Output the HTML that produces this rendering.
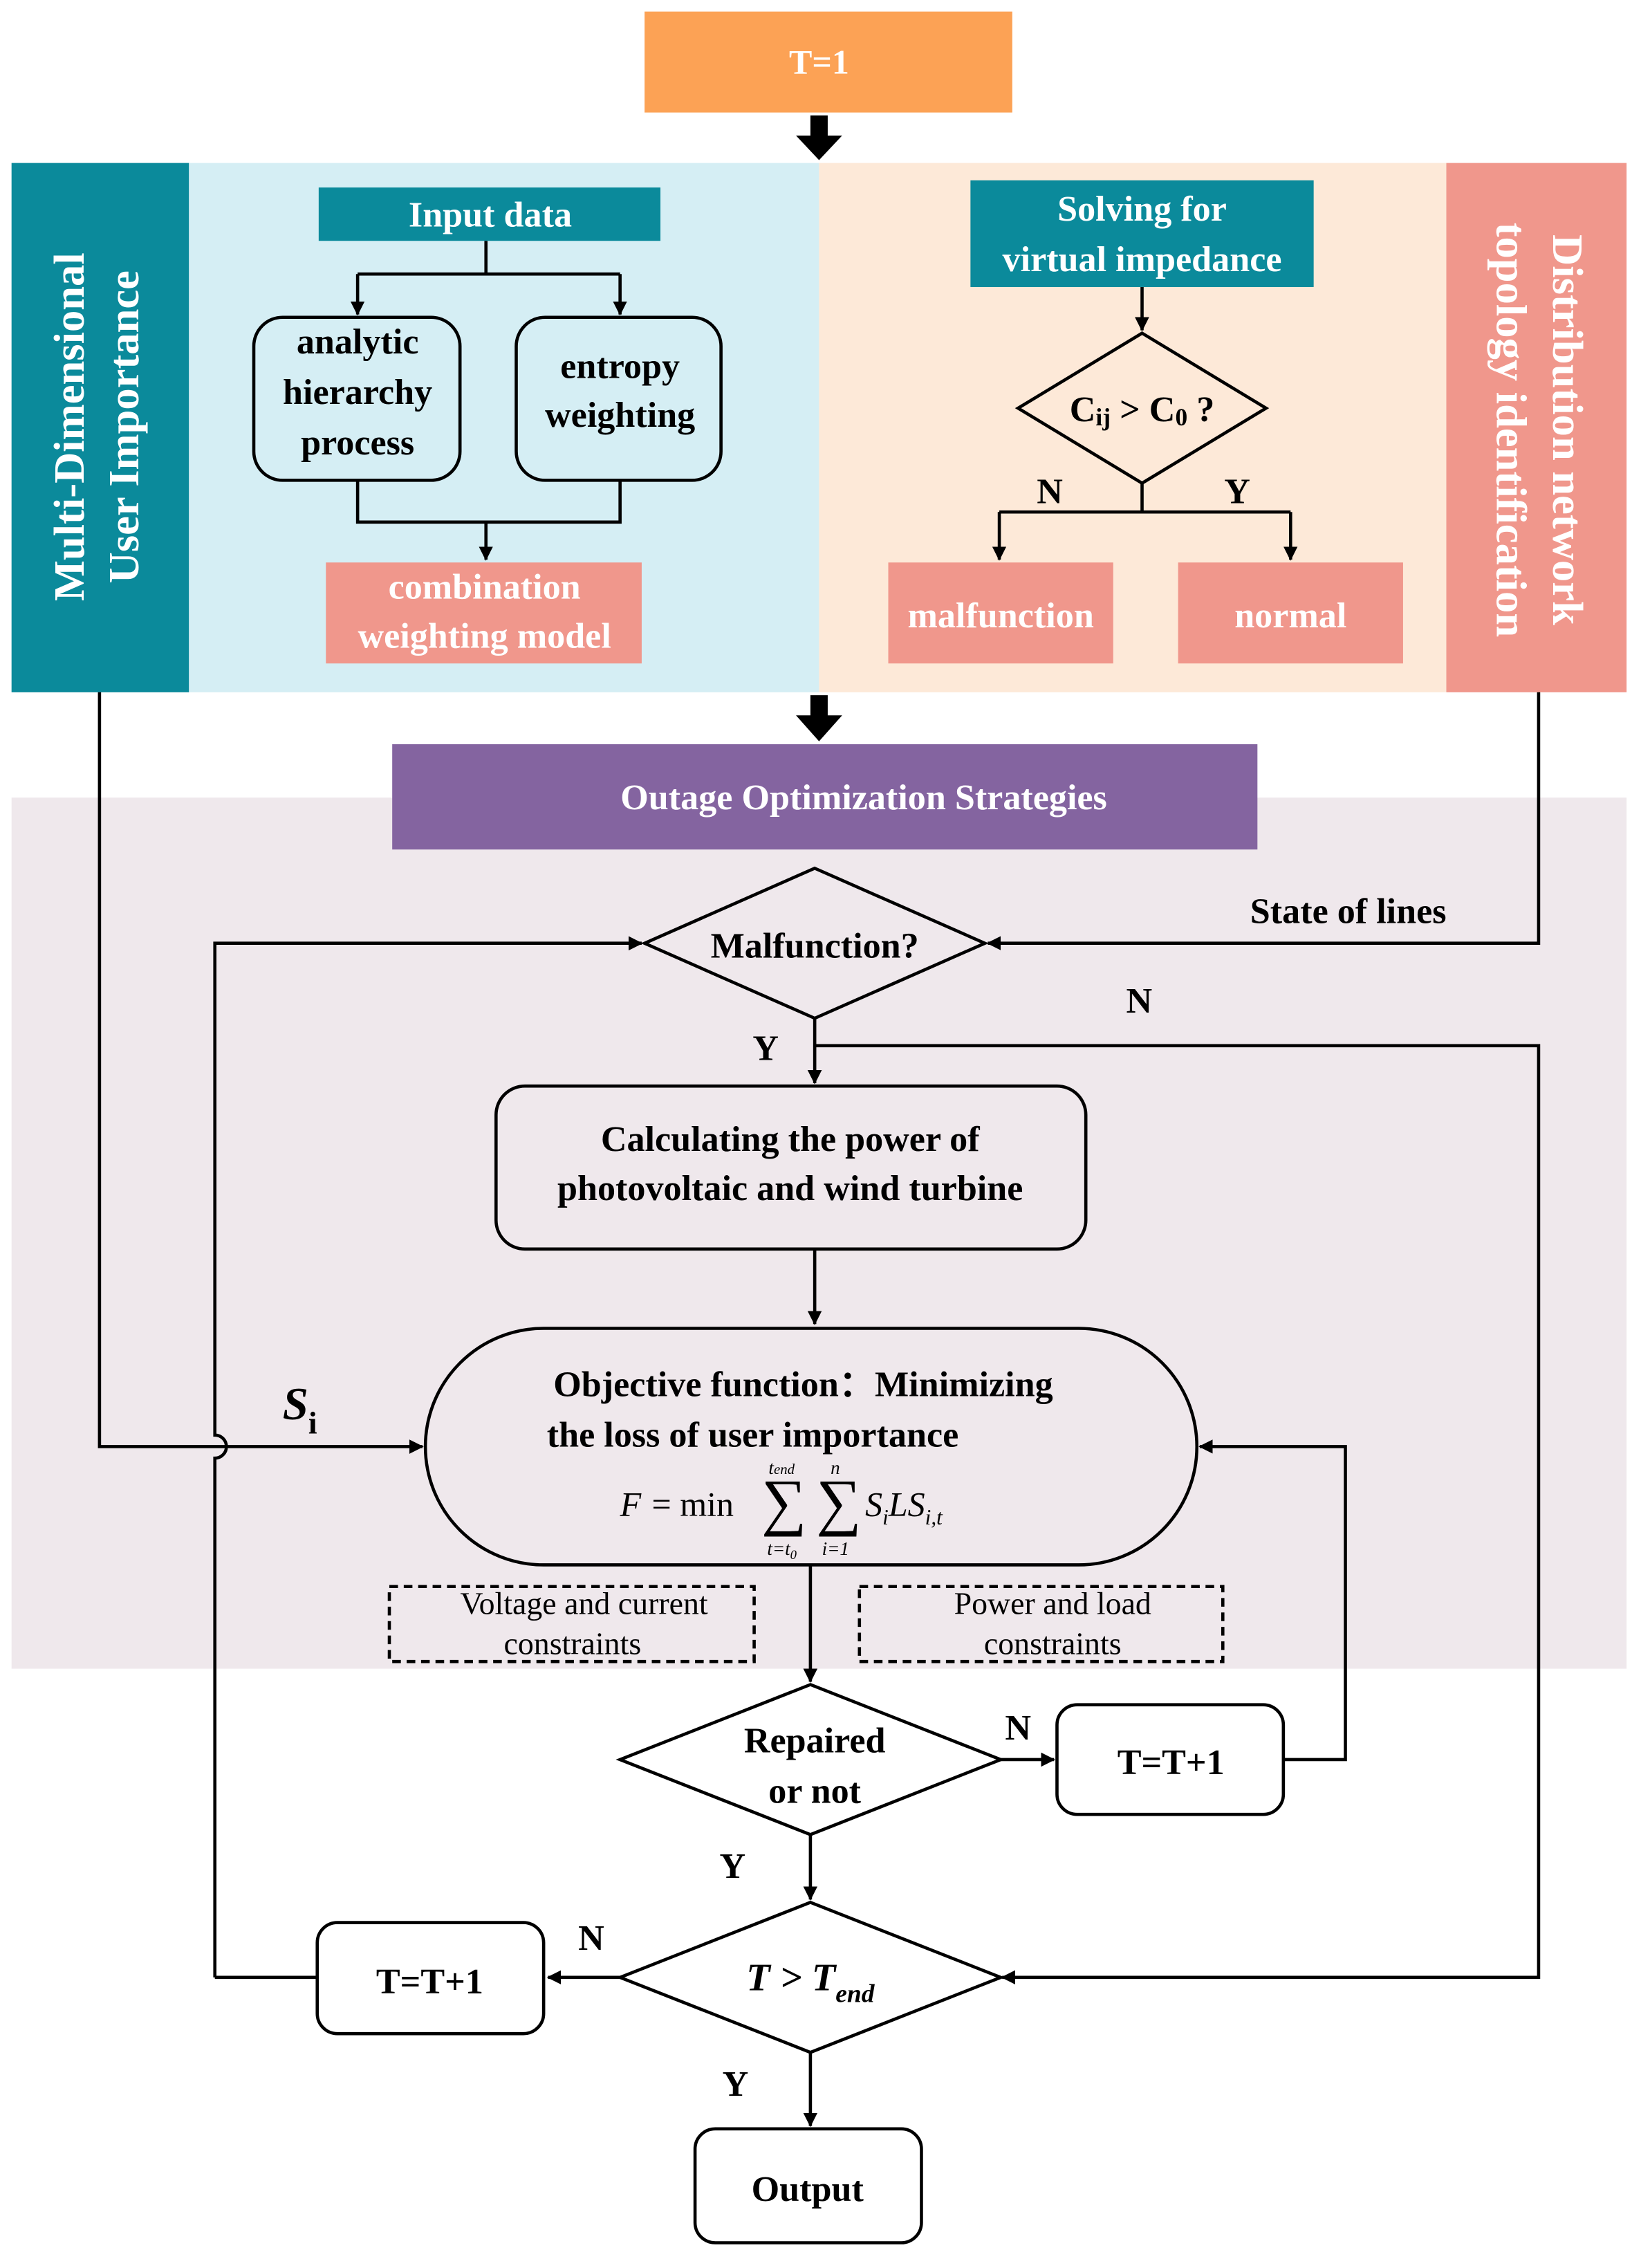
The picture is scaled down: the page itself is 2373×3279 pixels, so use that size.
<!DOCTYPE html>
<html><head><meta charset="utf-8"><style>html,body{margin:0;padding:0;background:#fff}svg{display:block}svg text{font-family:"Liberation Serif","DejaVu Serif",serif}</style></head>
<body>
<svg xmlns="http://www.w3.org/2000/svg" width="2373" height="3279" viewBox="0 0 1138 1572.5" preserveAspectRatio="none" style="font-family:'Liberation Serif',serif">
<defs>
<marker id="a" markerWidth="10" markerHeight="10" refX="9" refY="5" orient="auto" markerUnits="userSpaceOnUse"><path d="M0,0 L10,5 L0,10 Z" fill="#000" transform="scale(1.4) translate(-3,-1.4)"/></marker>
</defs>
<rect width="1138" height="1573" fill="#fff"/>
<rect x="447" y="8" width="255" height="70" fill="#FCA255"/>
<text x="568" y="51" font-size="24" font-weight="bold" fill="#fff" text-anchor="middle">T=1</text>
<path d="M562,80 h12 v14 h10 l-16,17 l-16,-17 h10 Z" fill="#000"/>
<rect x="131" y="113" width="437" height="367" fill="#D5EEF4"/>
<rect x="568" y="113" width="435" height="367" fill="#FDE9D8"/>
<rect x="8" y="113" width="123" height="367" fill="#0B8A9B"/>
<rect x="1003" y="113" width="125" height="367" fill="#F0978C"/>
<text transform="translate(58,296) rotate(-90)" font-size="30" font-weight="bold" fill="#fff" text-anchor="middle">Multi-Dimensional</text>
<text transform="translate(96,296) rotate(-90)" font-size="30" font-weight="bold" fill="#fff" text-anchor="middle">User Importance</text>
<text transform="translate(1077,298) rotate(90)" font-size="30" font-weight="bold" fill="#fff" text-anchor="middle">Distribution network</text>
<text transform="translate(1038,298) rotate(90)" font-size="30" font-weight="bold" fill="#fff" text-anchor="middle">topology identification</text>
<rect x="221" y="130" width="237" height="37" fill="#0B8A9B"/>
<text x="340" y="157" font-size="25" font-weight="bold" fill="#fff" text-anchor="middle">Input data</text>
<g stroke="#000" stroke-width="2.2" fill="none">
<path d="M337,167 V190 M248,190 H430"/>
<path d="M248,190 V218" marker-end="url(#a)"/>
<path d="M430,190 V218" marker-end="url(#a)"/>
<rect x="176" y="220" width="143" height="113" rx="20"/>
<rect x="358" y="220" width="142" height="113" rx="20"/>
<path d="M248,333 V362 H430 V333 M337,362"/>
<path d="M337,362 V388" marker-end="url(#a)"/>
</g>
<g font-size="25" font-weight="bold" text-anchor="middle">
<text x="248" y="245">analytic</text><text x="248" y="280">hierarchy</text><text x="248" y="315">process</text>
<text x="430" y="262">entropy</text><text x="430" y="296">weighting</text>
</g>
<rect x="226" y="390" width="219" height="70" fill="#F0978C"/>
<text x="336" y="415" font-size="25" font-weight="bold" fill="#fff" text-anchor="middle">combination</text>
<text x="336" y="449" font-size="25" font-weight="bold" fill="#fff" text-anchor="middle">weighting model</text>
<rect x="673" y="125" width="238" height="74" fill="#0B8A9B"/>
<text x="792" y="153" font-size="25" font-weight="bold" fill="#fff" text-anchor="middle">Solving for</text>
<text x="792" y="188" font-size="25" font-weight="bold" fill="#fff" text-anchor="middle">virtual impedance</text>
<g stroke="#000" stroke-width="2.2" fill="none">
<path d="M792,199 V229" marker-end="url(#a)"/>
<path d="M792,231 L878,283 L792,335 L706,283 Z"/>
<path d="M792,335 V355 M693,355 H895"/>
<path d="M693,355 V388" marker-end="url(#a)"/>
<path d="M895,355 V388" marker-end="url(#a)"/>
</g>
<text x="792" y="292" font-size="25" font-weight="bold" text-anchor="middle">C<tspan font-size="17" dy="3">ij</tspan><tspan dy="-3"> &gt; C</tspan><tspan font-size="17" dy="3">0</tspan><tspan dy="-3"> ?</tspan></text>
<text x="728" y="349" font-size="25" font-weight="bold" text-anchor="middle">N</text>
<text x="858" y="349" font-size="25" font-weight="bold" text-anchor="middle">Y</text>
<rect x="616" y="390" width="156" height="70" fill="#F0978C"/>
<rect x="817" y="390" width="156" height="70" fill="#F0978C"/>
<text x="694" y="435" font-size="25" font-weight="bold" fill="#fff" text-anchor="middle">malfunction</text>
<text x="895" y="435" font-size="25" font-weight="bold" fill="#fff" text-anchor="middle">normal</text>
<path d="M562,482 h12 v14 h10 l-16,18 l-16,-18 h10 Z" fill="#000"/>
<rect x="8" y="553" width="1120" height="604" fill="#EFE8EC"/>
<rect x="272" y="516" width="600" height="73" fill="#8464A0"/>
<text x="599" y="561" font-size="25" font-weight="bold" fill="#fff" text-anchor="middle">Outage Optimization Strategies</text>
<g stroke="#000" stroke-width="2.2" fill="none">
<path d="M565,602 L683,654 L565,706 L447,654 Z"/>
<path d="M1067,480 V654 H685" marker-end="url(#a)"/>
<path d="M149,1371 V1011 A8,8 0 0 0 149,995 V654 H445" marker-end="url(#a)"/>
<path d="M565,725 H1067 V1371 H695" marker-end="url(#a)"/>
<path d="M565,706 V751" marker-end="url(#a)"/>
<rect x="344" y="753" width="409" height="113" rx="20"/>
<path d="M565,866 V918" marker-end="url(#a)"/>
<rect x="295" y="921" width="535" height="164" rx="82"/>
<path d="M69,480 V1003 H293" marker-end="url(#a)"/>
<path d="M890,1220 H933 V1003 H832" marker-end="url(#a)"/>
<rect x="270" y="1100" width="253" height="52" stroke-dasharray="6,4"/>
<rect x="596" y="1100" width="252" height="52" stroke-dasharray="6,4"/>
<path d="M562,1085 V1166" marker-end="url(#a)"/>
<path d="M562,1168 L694,1220 L562,1272 L430,1220 Z"/>
<path d="M694,1220 H731" marker-end="url(#a)"/>
<rect x="733" y="1182" width="157" height="76" rx="14"/>
<path d="M562,1272 V1317" marker-end="url(#a)"/>
<path d="M562,1319 L694,1371 L562,1423 L430,1371 Z"/>
<path d="M430,1371 H380" marker-end="url(#a)"/>
<rect x="220" y="1333" width="157" height="77" rx="14"/>
<path d="M220,1371 H149"/>
<path d="M562,1423 V1474" marker-end="url(#a)"/>
<rect x="482" y="1476" width="157" height="79" rx="14"/>
</g>
<g font-size="25" font-weight="bold" text-anchor="middle">
<text x="565" y="664">Malfunction?</text>
<text x="935" y="640">State of  lines</text>
<text x="790" y="702">N</text>
<text x="531" y="735">Y</text>
<text x="548" y="798">Calculating the power of</text>
<text x="548" y="832">photovoltaic and wind turbine</text>
<text x="557" y="968">Objective function：Minimizing</text>
<text x="522" y="1003">the loss of user importance</text>
<text x="565" y="1215">Repaired</text>
<text x="565" y="1250">or not</text>
<text x="706" y="1206">N</text>
<text x="812" y="1230">T=T+1</text>
<text x="508" y="1302">Y</text>
<text x="410" y="1352">N</text>
<text x="298" y="1382">T=T+1</text>
<text x="510" y="1453">Y</text>
<text x="560" y="1526">Output</text>
</g>
<text x="196" y="984" font-size="32" font-weight="bold" font-style="italic">S<tspan font-size="22" font-style="normal" dy="10">i</tspan></text>
<text x="562" y="1380" font-size="27" font-weight="bold" font-style="italic" text-anchor="middle">T &gt; T<tspan font-size="18" dy="8">end</tspan></text>
<g font-style="italic" font-size="24">
<text x="430" y="1051">F</text>
<text x="452" y="1051" font-style="normal">= min</text>
<text x="528" y="1056" font-size="44" font-style="normal">∑</text>
<text x="566" y="1056" font-size="44" font-style="normal">∑</text>
<text x="600" y="1051">S<tspan font-size="15" dy="6">i</tspan><tspan dy="-6">LS</tspan><tspan font-size="15" dy="6">i,t</tspan></text>
<text x="533" y="1022" font-size="13">t<tspan font-size="10">end</tspan></text>
<text x="576" y="1022" font-size="13">n</text>
<text x="532" y="1078" font-size="13">t=t<tspan font-size="9" dy="3">0</tspan></text>
<text x="570" y="1078" font-size="13">i=1</text>
</g>
<g font-size="22" text-anchor="middle">
<text x="405" y="1119">Voltage and current</text>
<text x="397" y="1147">constraints</text>
<text x="730" y="1119">Power and load</text>
<text x="730" y="1147">constraints</text>
</g>
</svg>
</body></html>
